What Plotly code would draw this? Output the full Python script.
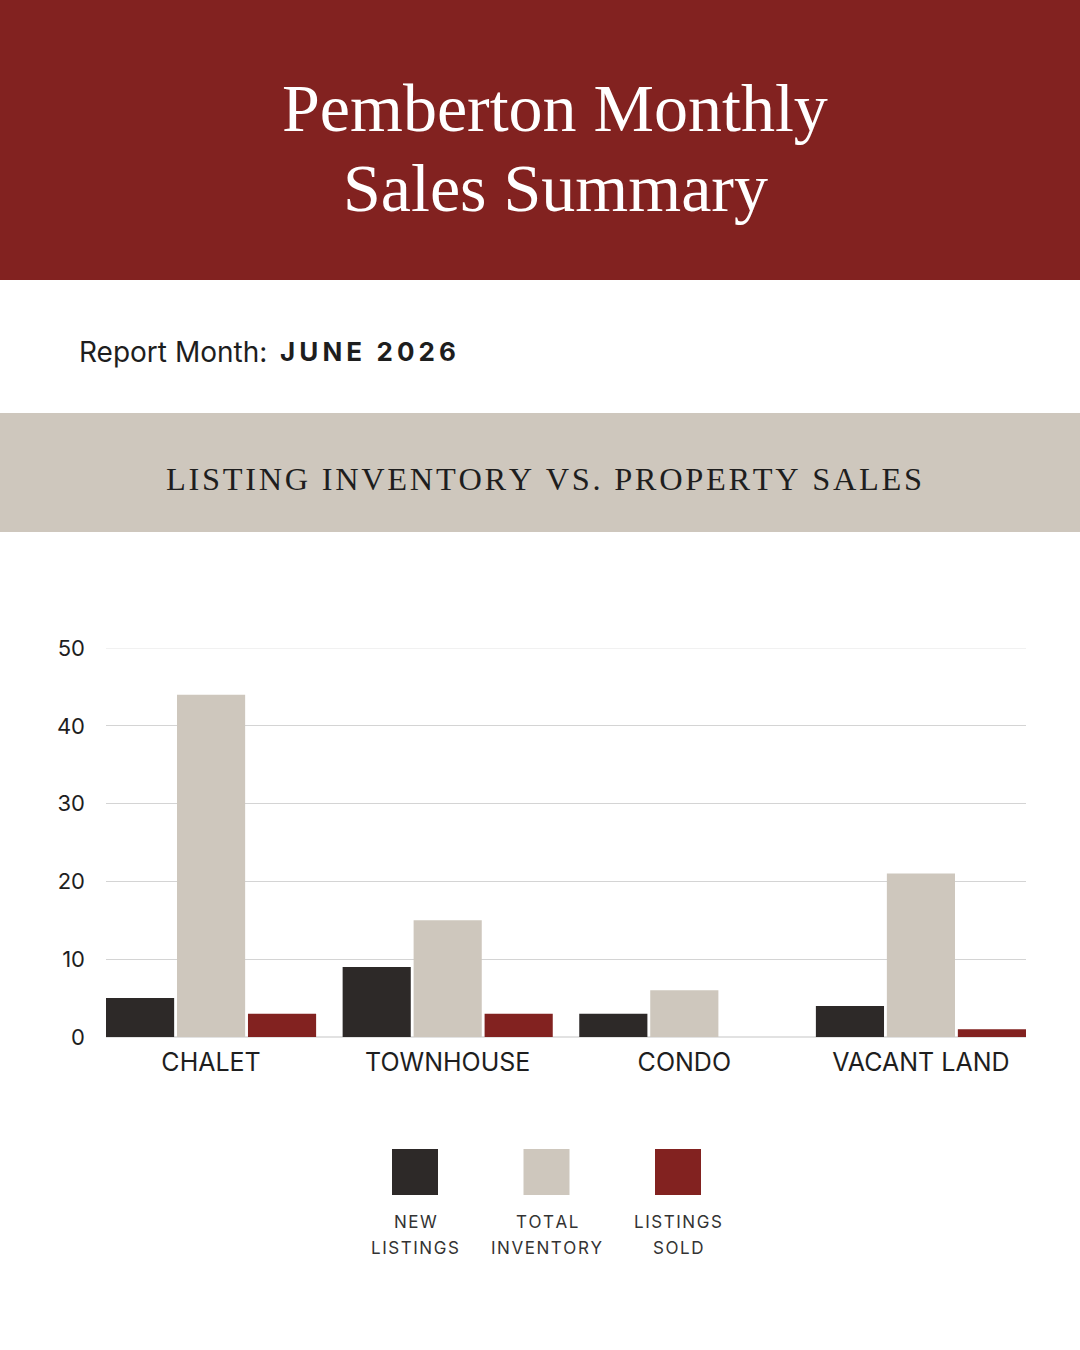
import plotly.graph_objects as go

# chart data
categories = ["CHALET", "TOWNHOUSE", "CONDO", "VACANT LAND"]
new_listings = [5, 9, 3, 4]
total_inventory = [44, 15, 6, 21]
listings_sold = [3, 3, 0, 1]
series_names = [["NEW", "LISTINGS"], ["TOTAL", "INVENTORY"], ["LISTINGS", "SOLD"]]
y_ticks = [0, 10, 20, 30, 40, 50]

RED = "#822220"
BEIGE = "#CEC7BD"
DARK = "#2D2928"
colors = [DARK, BEIGE, RED]
SANS = "Inter, Liberation Sans, sans-serif"
SERIF = "Liberation Serif, serif"

W, H = 1080, 1350


def py(px_y):
    """pixel row (from top) -> paper y"""
    return 1 - px_y / H


def px(px_x):
    return px_x / W


def spaced(text, sep="\u200a"):
    return sep.join(text)


fig = go.Figure()
for name, vals, col in zip(series_names, [new_listings, total_inventory, listings_sold], colors):
    fig.add_trace(go.Bar(x=categories, y=vals, name=" ".join(name), marker_color=col,
                         marker_line_width=0, showlegend=False, hoverinfo="skip"))

# bars sit flush with the plot edges
edge = 0.444
fig.update_layout(
    width=W, height=H,
    margin=dict(l=0, r=0, t=0, b=0, autoexpand=False),
    paper_bgcolor="white", plot_bgcolor="white",
    barmode="group", bargap=0.1, bargroupgap=0.04,
    font=dict(family=SANS, color="#1e1e1e"),
    xaxis=dict(domain=[px(106), px(1026)], range=[-edge, len(categories) - 1 + edge],
               automargin=False, showgrid=False, showline=False, ticks="",
               tickfont=dict(size=25, color="#1e1e1e"), ticklabelstandoff=8),
    yaxis=dict(domain=[py(1037), py(648)], range=[0, max(y_ticks)], tickvals=y_ticks,
               automargin=False,
               showgrid=True, gridcolor="#d4d4d4", gridwidth=1,
               zeroline=True, zerolinecolor="#e2e2e2", zerolinewidth=2,
               showline=False, ticks="", ticklabelstandoff=20,
               tickfont=dict(size=22, color="#1e1e1e")),
)

shapes = [
    dict(type="rect", xref="paper", yref="paper", x0=0, x1=1, y0=py(280), y1=1,
         fillcolor=RED, line_width=0, layer="below"),
    dict(type="rect", xref="paper", yref="paper", x0=0, x1=1, y0=py(532), y1=py(413),
         fillcolor=BEIGE, line_width=0, layer="below"),
    # faint top gridline
    dict(type="line", xref="x domain", x0=0, x1=1, yref="y",
         y0=max(y_ticks), y1=max(y_ticks), line=dict(color="#ececec", width=1.5)),
]

annotations = [
    dict(text="Pemberton Monthly", x=px(555), y=py(108), xref="paper", yref="paper",
         showarrow=False, xanchor="center", yanchor="middle",
         font=dict(family=SERIF, size=68, color="white")),
    dict(text="Sales Summary", x=px(555), y=py(188), xref="paper", yref="paper",
         showarrow=False, xanchor="center", yanchor="middle",
         font=dict(family=SERIF, size=68, color="white")),
    dict(text="Report Month:", x=px(77), y=py(352), xref="paper", yref="paper",
         showarrow=False, xanchor="left", yanchor="middle",
         font=dict(family=SANS, size=28, color="#1e1e1e")),
    dict(text="<b>" + spaced("JUNE 2026", "\u2009") + "</b>",
         x=px(278), y=py(352), xref="paper", yref="paper",
         showarrow=False, xanchor="left", yanchor="middle",
         font=dict(family=SANS, size=26, color="#1e1e1e")),
    dict(text=spaced("LISTING INVENTORY VS. PROPERTY SALES"),
         x=px(544), y=py(479), xref="paper", yref="paper",
         showarrow=False, xanchor="center", yanchor="middle",
         font=dict(family=SERIF, size=32.4, color="#1e1e1e")),
]

# custom legend: swatch above a two-line label
legend_x0, legend_step, sw = 415, 131.5, 46
for i, (name, col) in enumerate(zip(series_names, colors)):
    cx = legend_x0 + i * legend_step
    shapes.append(dict(type="rect", xref="paper", yref="paper",
                       x0=px(cx - sw / 2), x1=px(cx + sw / 2),
                       y0=py(1149 + sw), y1=py(1149),
                       fillcolor=col, line_width=0))
    for j, part in enumerate(name):
        annotations.append(dict(text=spaced(part), x=px(cx), y=py(1222 + 26 * j),
                                xref="paper", yref="paper",
                                showarrow=False, xanchor="center", yanchor="middle",
                                font=dict(family=SANS, size=17, color="#333333")))

fig.update_layout(shapes=shapes, annotations=annotations)

fig.write_html("out.html", config={"displayModeBar": False},
               post_script="document.body.style.margin='0';")
